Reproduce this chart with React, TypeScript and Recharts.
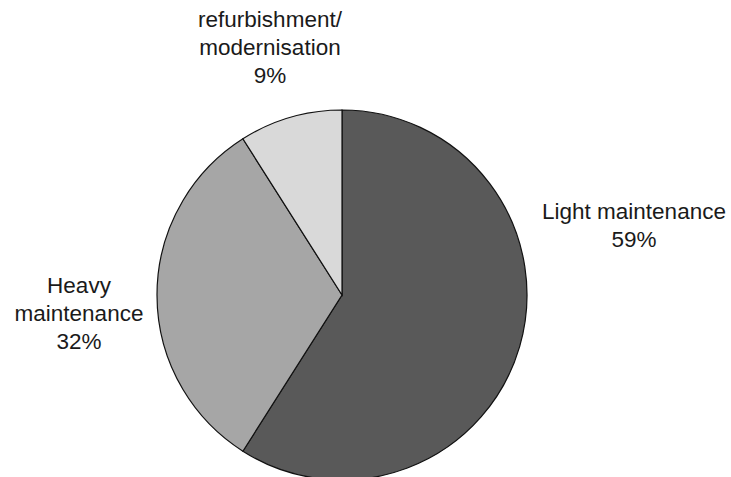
import React from "react"
import { PieChart, Pie, Cell } from "recharts"

const categories = ["Light maintenance", "Heavy maintenance", "refurbishment/ modernisation"]
const shares = [59, 32, 9]
const labelLines = [
  ["Light maintenance", "59%"],
  ["Heavy", "maintenance", "32%"],
  ["refurbishment/", "modernisation", "9%"],
]
const colors = ["#595959", "#a6a6a6", "#d9d9d9"]

// label block centre, relative to pie centre
const labelOffsets = [
  { dx: 292, dy: -70 },
  { dx: -263, dy: 18 },
  { dx: -72, dy: -248 },
]

const data = categories.map((name, i) => ({ name, value: shares[i] }))

const renderLabel = (props: any) => {
  const { cx, cy, index } = props
  const lines = labelLines[index]
  const off = labelOffsets[index]
  const lh = 28
  const startY = cy + off.dy - ((lines.length - 1) * lh) / 2
  return (
    <text
      x={cx + off.dx}
      y={startY}
      textAnchor="middle"
      dominantBaseline="central"
      fill="#1a1a1a"
      fontSize={22.5}
      fontFamily="'Liberation Sans', Arial, sans-serif"
    >
      {lines.map((l, i) => (
        <tspan key={i} x={cx + off.dx} dy={i === 0 ? 0 : lh}>
          {l}
        </tspan>
      ))}
    </text>
  )
}

export default function App() {
  return (
    <div style={{ position: "absolute", left: 0, top: 0, background: "#fff" }}>
      <PieChart width={731} height={477} margin={{ top: 0, right: 0, bottom: 0, left: 0 }}>
        <Pie
          data={data}
          dataKey="value"
          nameKey="name"
          cx={342}
          cy={295}
          outerRadius={185}
          startAngle={90}
          endAngle={-270}
          stroke="#111"
          strokeWidth={1.2}
          label={renderLabel}
          labelLine={false}
          isAnimationActive={false}
        >
          {data.map((d, i) => (
            <Cell key={d.name} fill={colors[i]} />
          ))}
        </Pie>
      </PieChart>
    </div>
  )
}
